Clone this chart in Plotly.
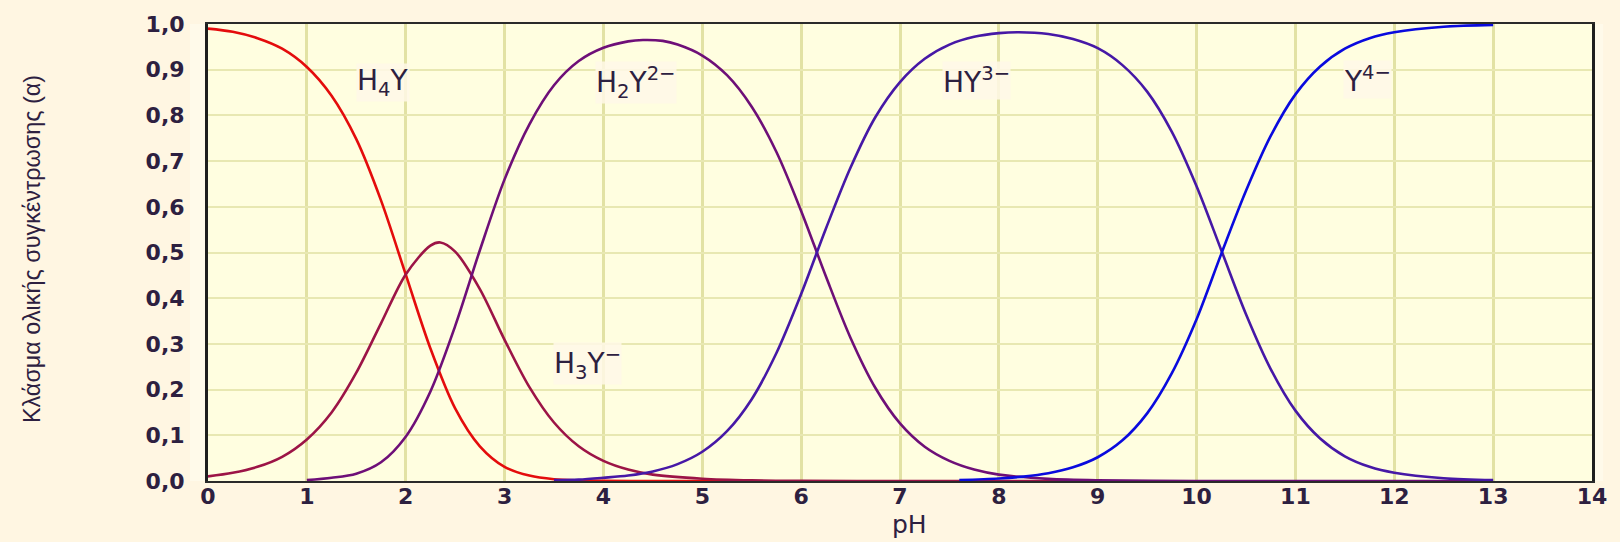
import plotly.graph_objects as go

# ---------------- data ----------------
ph_h4y = [0, 0.25, 0.5, 0.75, 1.0, 1.25, 1.5, 1.75, 2.0, 2.25, 2.5, 2.75, 3.0, 3.25, 3.5, 3.75, 4.0, 4.5, 5.0, 5.33]
a_h4y = [0.99, 0.983, 0.969, 0.946, 0.906, 0.843, 0.748, 0.614, 0.452, 0.29, 0.159, 0.076, 0.031, 0.012, 0.004, 0.0015, 0.0005, 0, 0, 0]

ph_h3y = [0, 0.25, 0.5, 0.75, 1.0, 1.25, 1.5, 1.75, 2.0, 2.25, 2.35, 2.5, 2.75, 3.0, 3.25, 3.5, 3.75, 4.0, 4.25, 4.5, 5.0, 5.5, 6.0, 7.0, 8.0, 8.85]
a_h3y = [0.01, 0.018, 0.031, 0.053, 0.091, 0.15, 0.237, 0.345, 0.452, 0.515, 0.522, 0.502, 0.42, 0.309, 0.206, 0.128, 0.076, 0.044, 0.025, 0.014, 0.005, 0.0015, 0.0005, 0, 0, 0]

ph_h2y = [1.0, 1.25, 1.5, 1.75, 2.0, 2.25, 2.5, 2.75, 3.0, 3.25, 3.5, 3.75, 4.0, 4.25, 4.4, 4.6, 4.75, 5.0, 5.25, 5.5, 5.75, 6.0, 6.25, 6.5, 6.75, 7.0, 7.25, 7.5, 7.75, 8.0, 8.5, 9.0, 10.0, 11.0, 12.0, 13.0]
a_h2y = [0.002, 0.007, 0.016, 0.041, 0.097, 0.196, 0.339, 0.505, 0.66, 0.78, 0.866, 0.919, 0.948, 0.962, 0.965, 0.963, 0.955, 0.931, 0.888, 0.819, 0.72, 0.591, 0.448, 0.313, 0.204, 0.126, 0.075, 0.044, 0.025, 0.014, 0.0046, 0.0014, 0.0001, 0, 0, 0]

ph_hy = [3.5, 3.75, 4.0, 4.25, 4.5, 4.75, 5.0, 5.25, 5.5, 5.75, 6.0, 6.25, 6.5, 6.75, 7.0, 7.25, 7.5, 7.75, 8.0, 8.2, 8.5, 8.75, 9.0, 9.25, 9.5, 9.75, 10.0, 10.25, 10.5, 10.75, 11.0, 11.25, 11.5, 11.75, 12.0, 12.5, 13.0]
a_hy = [0.002, 0.003, 0.007, 0.012, 0.021, 0.037, 0.064, 0.109, 0.179, 0.28, 0.409, 0.552, 0.686, 0.796, 0.873, 0.924, 0.955, 0.972, 0.98, 0.982, 0.978, 0.967, 0.947, 0.91, 0.852, 0.764, 0.645, 0.505, 0.365, 0.245, 0.154, 0.093, 0.054, 0.031, 0.018, 0.006, 0.002]

ph_y = [7.6, 8.0, 8.25, 8.5, 8.75, 9.0, 9.25, 9.5, 9.75, 10.0, 10.25, 10.5, 10.75, 11.0, 11.25, 11.5, 11.75, 12.0, 12.5, 13.0]
a_y = [0.002, 0.0055, 0.0096, 0.017, 0.03, 0.052, 0.089, 0.148, 0.236, 0.354, 0.497, 0.635, 0.755, 0.846, 0.907, 0.946, 0.969, 0.982, 0.994, 0.998]

species = ["H<sub>4</sub>Y", "H<sub>3</sub>Y<sup>\u2212</sup>", "H<sub>2</sub>Y<sup>2\u2212</sup>", "HY<sup>3\u2212</sup>", "Y<sup>4\u2212</sup>"]
label_x = [1.77, 3.84, 4.33, 7.77, 11.73]
label_y = [0.872, 0.258, 0.872, 0.876, 0.878]

x_ticks = list(range(0, 15))
x_ticktext = [str(v) for v in x_ticks]
y_ticks = [i / 10 for i in range(0, 11)]
y_ticktext = ["0,0", "0,1", "0,2", "0,3", "0,4", "0,5", "0,6", "0,7", "0,8", "0,9", "1,0"]

y_title = "Κλάσμα ολικής συγκέντρωσης (α)"
x_title = "pH"

# ---------------- figure ----------------
colors = ["#E40C0C", "#9C1446", "#6E0F78", "#4618A6", "#0A0ADE"]
series = [(ph_h4y, a_h4y), (ph_h3y, a_h3y), (ph_h2y, a_h2y), (ph_hy, a_hy), (ph_y, a_y)]

text_color = "#2d2040"

fig = go.Figure()
for (xs, ys), c in zip(series, colors):
    fig.add_trace(go.Scatter(x=xs, y=ys, mode="lines",
                             line=dict(color=c, width=2.6, shape="spline", smoothing=0.9),
                             showlegend=False, hoverinfo="skip"))

label_font = dict(family="DejaVu Sans", size=28, color=text_color)
for t, lx, ly in zip(species, label_x, label_y):
    fig.add_annotation(x=lx, y=ly, xref="x", yref="y", text=t, showarrow=False,
                       font=label_font, bgcolor="rgba(255,248,232,0.85)",
                       xanchor="center", yanchor="middle", borderpad=0)

fig.add_annotation(x=-0.127, y=0.508, xref="paper", yref="paper", text=y_title,
                   textangle=-90, showarrow=False,
                   font=dict(family="Liberation Sans, Arial", size=23.4, color=text_color),
                   xanchor="center", yanchor="middle")
fig.add_annotation(x=7.1, y=-0.0957, xref="x", yref="paper", text=x_title, showarrow=False,
                   font=dict(family="DejaVu Sans", size=25, color=text_color),
                   xanchor="center", yanchor="middle")

# light strips framing the plot area at left and right
fig.add_shape(type="rect", xref="paper", yref="paper", x0=-0.013, x1=0, y0=0, y1=1,
              line=dict(width=0), fillcolor="#FFFAEA", layer="below")
fig.add_shape(type="rect", xref="paper", yref="paper", x0=1, x1=1.008, y0=0, y1=1,
              line=dict(width=0), fillcolor="#FFFAEA", layer="below")

fig.update_layout(
    width=1620, height=542,
    margin=dict(l=208, r=28, t=21, b=61),
    paper_bgcolor="#FFF6E2",
    plot_bgcolor="#FFFEE0",
    xaxis=dict(range=[0, 14], tickvals=x_ticks, ticktext=x_ticktext,
               showgrid=True, gridcolor="#E2E2A4", gridwidth=3,
               zeroline=False, showline=True, linecolor="#2a2a2a", linewidth=2, mirror=True,
               ticks="", ticklabelstandoff=-5,
               tickfont=dict(family="DejaVu Sans", size=22, weight="bold", color=text_color)),
    yaxis=dict(range=[0, 1.0], tickvals=y_ticks, ticktext=y_ticktext,
               showgrid=True, gridcolor="#E8E8B2", gridwidth=2,
               zeroline=False, showline=True, linecolor="#1e1e1e", linewidth=3, mirror=True,
               ticks="", ticklabelstandoff=16,
               tickfont=dict(family="DejaVu Sans", size=22, weight="bold", color=text_color)),
)

fig.write_html("out.html", config={"displayModeBar": False},
               post_script="document.body.style.margin='0';document.body.style.overflow='hidden';")
